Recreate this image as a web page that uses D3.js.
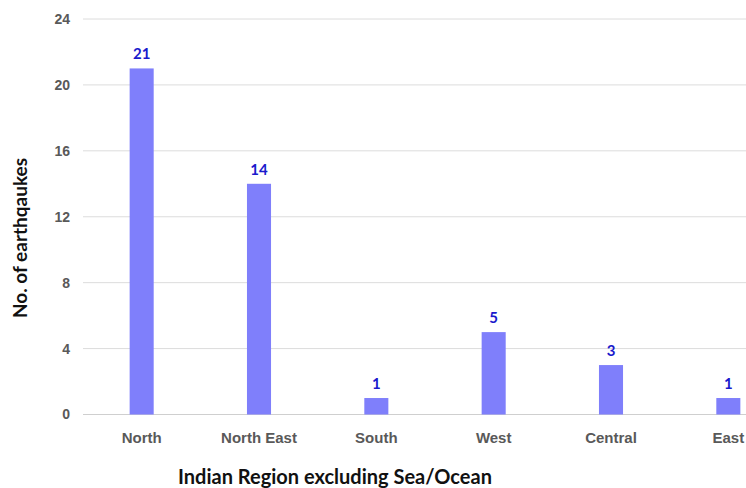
<!DOCTYPE html>
<html>
<head>
<meta charset="utf-8">
<script src="https://cdn.jsdelivr.net/npm/d3@7"></script>
<style>
  body { margin: 0; background: #fff; }
  svg { font-family: Lato, "Open Sans", sans-serif; }
</style>
</head>
<body>
<svg width="746" height="488"></svg>
<script>
var regions = ['North', 'North East', 'South', 'West', 'Central', 'East'];
var counts = [21, 14, 1, 5, 3, 1];
var yTicks = [0, 4, 8, 12, 16, 20, 24];

var svg = d3.select('svg');

// plot area runs past the right edge (picture is cropped)
var x = d3.scaleBand().domain(regions).range([83, 787]).paddingInner(0.795).paddingOuter(0.3975);
var y = d3.scaleLinear().domain([0, 24]).range([414.5, 19]);

// gridlines
svg.append('g').selectAll('line').data(yTicks).enter().append('line')
  .attr('x1', 83).attr('x2', 746)
  .attr('y1', function(d) { return y(d); })
  .attr('y2', function(d) { return y(d); })
  .attr('stroke', function(d) { return d === 0 ? '#cfcfcf' : '#dcdcdc'; })
  .attr('stroke-width', 1);

var yAxis = svg.append('g').attr('transform', 'translate(70,0)')
  .call(d3.axisLeft(y).tickValues(yTicks).tickSize(0).tickPadding(0));
yAxis.select('.domain').remove();
yAxis.selectAll('text').attr('fill', '#595959').style('font-size', '14px').style('font-weight', 'bold');

var xAxis = svg.append('g').attr('transform', 'translate(0,' + y(0) + ')')
  .call(d3.axisBottom(x).tickSize(0).tickPadding(18));
xAxis.select('.domain').remove();
xAxis.selectAll('text').attr('fill', '#595959').style('font-size', '15px').style('font-weight', 'bold');

svg.selectAll('rect.bar').data(counts).enter().append('rect')
  .attr('class', 'bar')
  .attr('x', function(d, i) { return x(regions[i]); })
  .attr('width', x.bandwidth())
  .attr('y', function(d) { return y(d); })
  .attr('height', function(d) { return y(0) - y(d); })
  .attr('fill', '#7f7ffb');

svg.selectAll('text.val').data(counts).enter().append('text')
  .attr('class', 'val')
  .attr('x', function(d, i) { return x(regions[i]) + x.bandwidth() / 2; })
  .attr('y', function(d) { return y(d) - 9; })
  .attr('text-anchor', 'middle')
  .attr('fill', '#1a1acc')
  .style('font-size', '15px').style('font-weight', 'bold')
  .text(function(d) { return d; });

svg.append('text')
  .attr('x', 335).attr('y', 484)
  .attr('text-anchor', 'middle')
  .style('font-size', '20px').style('font-weight', 'bold')
  .attr('fill', '#111')
  .text('Indian Region excluding Sea/Ocean');

svg.append('text')
  .attr('transform', 'translate(27,238) rotate(-90)')
  .attr('text-anchor', 'middle')
  .style('font-size', '19px').style('font-weight', 'bold')
  .attr('fill', '#111')
  .text('No. of earthqaukes');
</script>
</body>
</html>
